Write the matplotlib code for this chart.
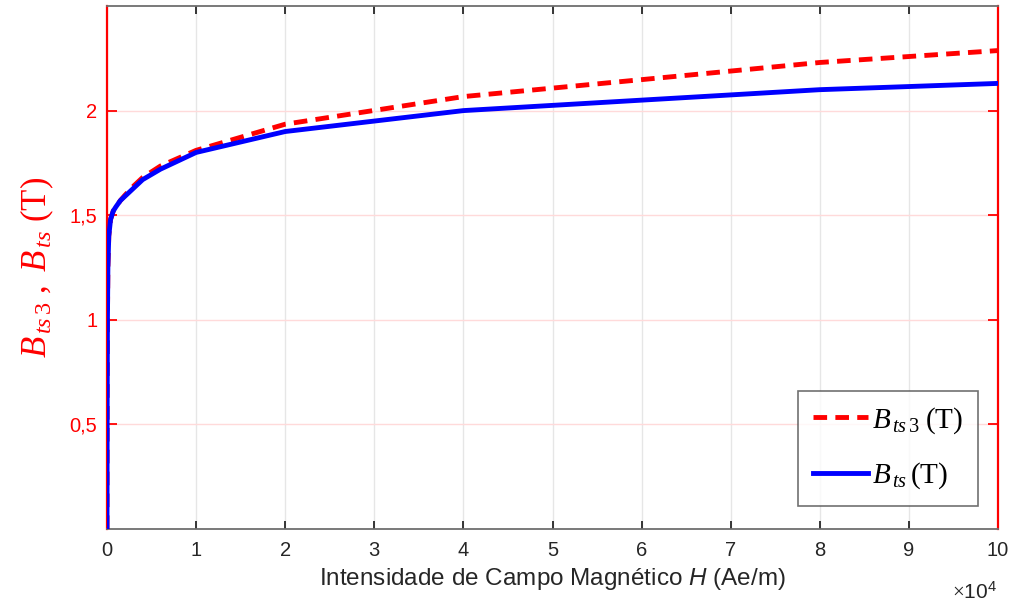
import matplotlib
matplotlib.use("Agg")
import matplotlib.pyplot as plt
from matplotlib.ticker import FuncFormatter, FixedLocator

plt.rcParams['mathtext.fontset'] = 'custom'
plt.rcParams['mathtext.rm'] = 'Liberation Serif'
plt.rcParams['mathtext.it'] = 'Liberation Serif:italic'
plt.rcParams['mathtext.sf'] = 'Liberation Sans:italic'
plt.rcParams['font.family'] = ['Liberation Sans', 'DejaVu Sans']

# Magnetic field intensity H (Ae/m) and flux density curves (T)
H_ts3 = [0, 20, 50, 100, 200, 400, 700, 1000, 1500, 2000, 3000, 4000, 6000,
         10000, 20000, 40000, 60000, 80000, 100000]
B_ts3 = [0.0, 0.6, 1.0, 1.25, 1.40, 1.48, 1.52, 1.54, 1.57, 1.595, 1.64, 1.68, 1.735,
         1.81, 1.935, 2.067, 2.148, 2.23, 2.287]

H_ts = [0, 20, 50, 100, 200, 400, 700, 1000, 1500, 2000, 3000, 4000, 6000,
        10000, 20000, 40000, 60000, 80000, 100000]
B_ts = [0.0, 0.6, 1.0, 1.25, 1.40, 1.48, 1.52, 1.54, 1.57, 1.59, 1.63, 1.67, 1.72,
        1.80, 1.90, 2.0, 2.05, 2.10, 2.13]

x_ticks = [0, 10000, 20000, 30000, 40000, 50000, 60000, 70000, 80000, 90000, 100000]
y_ticks = [0.5, 1.0, 1.5, 2.0]
y_labels = ['0,5', '1', '1,5', '2']

red = '#ff0000'
dark = '#262626'

fig = plt.figure(figsize=(10.16, 6.06), dpi=100)
ax = fig.add_axes([107 / 1016, 1 - 529 / 606, (998 - 107) / 1016, (529 - 6) / 606])

ax.plot(H_ts3, B_ts3, color=red, lw=3.5, ls=(0, (2.8, 1.7)),
        label=r'$B_{\,ts\,3}\;\mathrm{(T)}$', zorder=3)
ax.plot(H_ts, B_ts, color='#0000ff', lw=3.5,
        label=r'$B_{\,ts}\,\mathrm{(T)}$', zorder=4)

ax.set_xlim(0, 100000)
ax.set_ylim(0, 2.5)
ax.xaxis.set_major_locator(FixedLocator(x_ticks))
ax.xaxis.set_major_formatter(FuncFormatter(lambda v, p: f'{v / 1e4:g}'))
ax.set_yticks(y_ticks)
ax.set_yticklabels(y_labels)

ax.tick_params(axis='x', direction='in', length=6, width=1.3, color=dark,
               labelcolor=dark, labelsize=14.5, top=True, pad=9)
ax.tick_params(axis='y', direction='in', length=7, width=1.3, color=red,
               labelcolor=red, labelsize=14.5, right=True, pad=7)

for side in ('left', 'right'):
    ax.spines[side].set_color(red)
    ax.spines[side].set_linewidth(1.6)
for side in ('top', 'bottom'):
    ax.spines[side].set_color('#6e6e6e')
    ax.spines[side].set_linewidth(1.3)

# Grid: neutral vertical lines, faint red horizontal lines
ax.grid(axis='x', color='#e6e6e6', lw=1.0, zorder=0)
ax.grid(axis='y', color='#ffdada', lw=1.0, zorder=0)
ax.set_axisbelow(True)

ax.set_xlabel(r'Intensidade de Campo Magnético $\mathsf{H}$ (Ae/m)',
              fontsize=17.5, color=dark, labelpad=4)
ax.set_ylabel(r'$B_{\,ts\,3}\ ,\ B_{\,ts}\ \mathrm{(T)}$', fontsize=25,
              color=red, labelpad=10)

fig.text(997 / 1016, 1 - 592 / 606, r'$\times\mathregular{10^{4}}$', fontsize=15,
         color=dark, ha='right', va='center', family='Liberation Sans')

leg = ax.legend(loc='lower right', bbox_to_anchor=(978 / 1016, 1 - 506 / 606),
                bbox_transform=fig.transFigure, fontsize=21, frameon=True,
                fancybox=False, edgecolor='#4d4d4d', handlelength=1.9,
                handletextpad=0.15, borderpad=0.5, labelspacing=0.85,
                borderaxespad=0)
leg.get_frame().set_linewidth(1.2)

fig.savefig('out.png', dpi=100, facecolor='white')
